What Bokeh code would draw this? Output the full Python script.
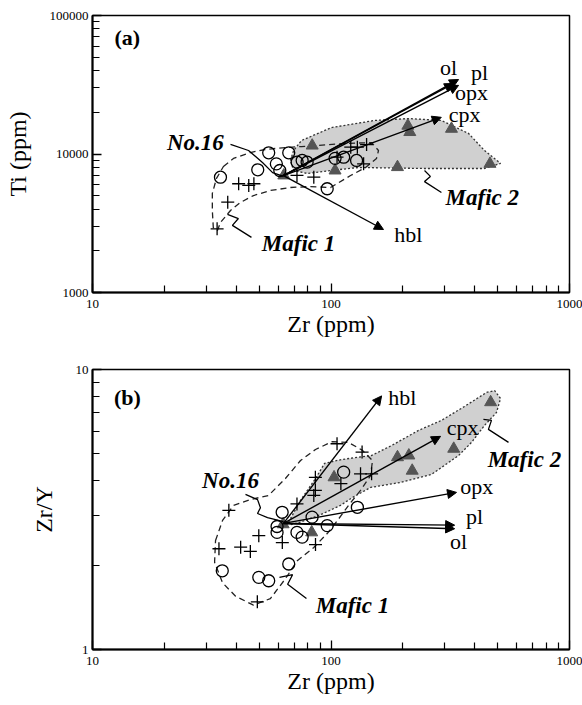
from bokeh.plotting import figure
from bokeh.layouts import column
from bokeh.models import (FixedTicker, NumeralTickFormatter, Label, Arrow,
                          NormalHead)
from bokeh.embed import file_html
from bokeh.resources import INLINE

FONT = "Liberation Serif"

# ---------------- Panel (a): Ti vs Zr ----------------
a_circ_zr = [34.4, 49.3, 54.8, 66.5, 59.0, 61.0, 72.1, 75.7, 79.4, 113, 128, 96.4, 104]
a_circ_ti = [6800, 7690, 10200, 10200, 8490, 7600, 8730, 8980, 8730, 9480, 8980, 5610, 9300]

a_cross_zr = [41, 45.2, 47.5, 36.9, 33.3, 72, 84.7, 121, 129, 141, 106, 137]
a_cross_ti = [6100, 5930, 6100, 4490, 2880, 7000, 6800, 11200, 11200, 11700, 9480, 8490]

a_tri_zr = [83.4, 104, 190, 214, 210, 320, 464, 63.4]
a_tri_ti = [11500, 7600, 8040, 14400, 16000, 15200, 8490, 7000]

a_mafic1_zr = [35.4, 39.0, 45.9, 53.1, 64.4, 75.2, 114, 147.9, 158.2, 155.2, 139.6, 120.8,
               99.6, 82.0, 67.6, 55.7, 47.3, 41.7, 37.9, 34.4, 33.4, 32.1, 31.8, 31.8, 33.1]
a_mafic1_ti = [8130, 9290, 10250, 10780, 11140, 11320, 11900, 12100, 10600, 9290, 7990, 6990,
               5730, 5820, 5730, 5450, 5010, 4470, 3910, 3200, 2800, 2940, 3910, 5190, 6660]

a_mafic2_zr = [67.6, 69.7, 75.2, 100.5, 152.2, 211.5, 290.4, 377.4, 440, 514, 440, 246.7,
               130.4, 99.6, 79.7, 69.7]
a_mafic2_ti = [8970, 10600, 12510, 15520, 17460, 18030, 17460, 14070, 10600, 8540, 7860, 7860,
               7990, 7600, 7230, 7600]

a_origin = (63.2, 6990)
a_vec_names = ["ol", "pl", "opx", "cpx", "hbl"]
a_vec_zr = [327, 342.7, 342.7, 290, 166]
a_vec_ti = [32300, 34500, 31300, 18400, 2850]
a_lab_zr = [311, 420, 388, 363, 211]
a_lab_ti = [42200, 38700, 27800, 19300, 2620]

a_no16_zr = [37.9, 45.1, 51.6, 56.9, 63.2]
a_no16_ti = [11720, 10600, 8690, 7340, 6890]
a_sq1_zr = [36.8, 40.9, 38.6, 46.4]
a_sq1_ti = [3660, 3420, 3050, 2500]
a_sq2_zr = [246.7, 261, 246.7, 290.4]
a_sq2_ti = [7600, 6890, 6320, 5270]

# ---------------- Panel (b): Zr/Y vs Zr ----------------
b_circ_zr = [62.4, 59.4, 72, 75.7, 83.3, 96.4, 129, 66.5, 35, 49.8, 54.8, 113, 59.4]
b_circ_zry = [3.09, 2.62, 2.62, 2.52, 2.97, 2.77, 3.22, 2.02, 1.91, 1.81, 1.76, 4.30, 2.75]

b_cross_zr = [37.3, 33.9, 41.8, 45.9, 49.8, 62.5, 86.1, 72, 84.7, 86, 110, 133, 148, 49.1,
              106, 135, 86]
b_cross_zry = [3.14, 2.29, 2.32, 2.24, 2.55, 2.41, 2.37, 3.31, 3.55, 4.12, 3.91, 4.24, 4.24,
               1.48, 5.43, 5.07, 3.70]

b_tri_zr = [190, 212, 219, 327, 467, 103, 83, 63]
b_tri_zry = [4.86, 4.93, 4.35, 5.21, 7.64, 4.12, 2.62, 2.80]

b_mafic1_zr = [32.8, 35.1, 39.0, 45.9, 54.7, 64.4, 74.5, 86.1, 101.4, 118.4, 135.6, 149.3,
               146.5, 133, 118.4, 106.5, 96.6, 84.5, 72.4, 64.4, 55.7, 47.3, 39.8, 35.1, 32.5]
b_mafic1_zry = [2.45, 2.89, 3.27, 3.43, 3.55, 4.08, 4.73, 5.18, 5.53, 5.49, 5.14, 4.73,
                4.18, 3.70, 3.27, 2.89, 2.60, 2.31, 2.08, 1.79, 1.52, 1.44, 1.55, 1.73, 2.05]

b_mafic2_zr = [66.4, 74.5, 86.1, 94.0, 110.7, 147.9, 179.4, 232.8, 290.4, 363, 449, 485.3,
               514, 494, 440, 388.2, 342.7, 263.8, 195.4, 146.5, 123, 109.6, 90.4, 74.5, 67.6]
b_mafic2_zry = [2.85, 3.41, 4.08, 4.62, 4.77, 4.93, 5.35, 6.06, 6.58, 7.38, 8.28, 8.41,
                7.88, 7.02, 6.31, 5.49, 4.93, 4.22, 3.95, 3.79, 3.49, 3.27, 3.03, 2.85, 2.79]

b_origin = (63.2, 2.82)
b_vec_names = ["hbl", "cpx", "opx", "pl", "ol"]
b_vec_zr = [163, 288, 336, 330, 330]
b_vec_zry = [8.05, 5.77, 3.64, 2.78, 2.70]
b_lab_zr = [199, 356, 408, 400, 343]
b_lab_zry = [7.94, 6.21, 3.82, 2.99, 2.43]

b_no16_zr = [43.8, 49.2, 50.6, 49.2, 54.2, 63.2]
b_no16_zry = [3.58, 3.43, 3.21, 3.06, 2.96, 2.86]
b_sq1_zr = [60.8, 69.0, 65.8, 78.9]
b_sq1_zry = [1.81, 1.85, 1.71, 1.52]
b_sq2_zr = [435.6, 470.8, 457.2, 555]
b_sq2_zry = [6.63, 6.58, 6.11, 5.49]

x_ticks = [10, 100, 1000]
x_minor = [m * d for d in (10, 100) for m in range(2, 10)]


def make_panel(y_range, y_ticks, y_minor, y_label, height, top, bottom, ylab_standoff):
    p = figure(width=582, height=height, x_axis_type="log", y_axis_type="log",
               x_range=(10, 1000), y_range=y_range, output_backend="svg",
               toolbar_location=None, min_border_left=92, min_border_right=13,
               min_border_top=top, min_border_bottom=bottom)
    p.grid.visible = False
    p.outline_line_color = "black"
    p.outline_line_width = 1.5
    p.xaxis.ticker = FixedTicker(ticks=x_ticks, minor_ticks=x_minor)
    p.yaxis.ticker = FixedTicker(ticks=y_ticks, minor_ticks=y_minor)
    p.xaxis.formatter = NumeralTickFormatter(format="0")
    p.yaxis.formatter = NumeralTickFormatter(format="0")
    for ax in (p.xaxis, p.yaxis):
        ax.axis_line_width = 2
        ax.major_tick_in = 9
        ax.major_tick_out = 0
        ax.minor_tick_in = 7
        ax.minor_tick_out = 0
        ax.major_tick_line_width = 1.3
        ax.minor_tick_line_width = 1.2
        ax.major_label_text_font = FONT
        ax.major_label_text_font_size = "13px"
        ax.major_label_text_color = "black"
        ax.axis_label_text_font = FONT
        ax.axis_label_text_font_size = "24px"
        ax.axis_label_text_font_style = "normal"
        ax.axis_label_text_color = "black"
    p.xaxis.axis_label = "Zr (ppm)"
    p.xaxis.major_label_standoff = 7
    p.xaxis.axis_label_standoff = 0
    p.yaxis.axis_label = y_label
    p.yaxis.major_label_standoff = 4
    p.yaxis.axis_label_standoff = ylab_standoff
    return p


def label(p, x, y, text, size="22px", style="normal"):
    p.add_layout(Label(x=x, y=y, text=text, text_align="center", text_baseline="middle",
                       text_font=FONT, text_font_size=size, text_font_style=style,
                       text_color="black"))


def draw(p, m1x, m1y, m2x, m2y, cx, cy, px_, py_, tx, ty, origin, vx, vy, names,
         lx, ly, lines):
    p.patch(m2x, m2y, fill_color="#d0d0d0", line_color="#333333", line_width=1.3,
            line_dash="2 2")
    p.patch(m1x + [m1x[0]], m1y + [m1y[0]], fill_color=None, line_color="#222222",
            line_width=1.3, line_dash="6 4")
    p.scatter(tx, ty, marker="triangle", size=12, fill_color="#555555",
              line_color="#555555")
    p.scatter(px_, py_, marker="cross", size=13, line_color="black", line_width=1.3)
    p.scatter(cx, cy, marker="circle", size=12, fill_color=None, line_color="black",
              line_width=1.3)
    for xe, ye in zip(vx, vy):
        p.add_layout(Arrow(x_start=origin[0], y_start=origin[1], x_end=xe, y_end=ye,
                           line_width=1.4, line_color="black",
                           end=NormalHead(size=9, fill_color="black", line_color="black")))
    for xs, ys in lines:
        p.line(xs, ys, line_color="black", line_width=1.3)
    for n, x, y in zip(names, lx, ly):
        label(p, x, y, n, "22px")


pa = make_panel((1000, 100000), [1000, 10000, 100000],
                [m * d for d in (1000, 10000) for m in range(2, 10)],
                "Ti (ppm)", 352, 15, 60, 16)
draw(pa, a_mafic1_zr, a_mafic1_ti, a_mafic2_zr, a_mafic2_ti, a_circ_zr, a_circ_ti,
     a_cross_zr, a_cross_ti, a_tri_zr, a_tri_ti, a_origin, a_vec_zr, a_vec_ti,
     a_vec_names, a_lab_zr, a_lab_ti,
     [(a_no16_zr, a_no16_ti), (a_sq1_zr, a_sq1_ti), (a_sq2_zr, a_sq2_ti)])
label(pa, 14.0, 69300, "(a)", "22px", "bold")
label(pa, 27.0, 12100, "No.16", "23px", "bold italic")
label(pa, 73.1, 2260, "Mafic 1", "23px", "bold italic")
label(pa, 431, 4850, "Mafic 2", "23px", "bold italic")

pb = make_panel((1, 10), [1, 10], [m for m in range(2, 10)],
                "Zr/Y", 353, 17, 56, 16)
draw(pb, b_mafic1_zr, b_mafic1_zry, b_mafic2_zr, b_mafic2_zry, b_circ_zr, b_circ_zry,
     b_cross_zr, b_cross_zry, b_tri_zr, b_tri_zry, b_origin, b_vec_zr, b_vec_zry,
     b_vec_names, b_lab_zr, b_lab_zry,
     [(b_no16_zr, b_no16_zry), (b_sq1_zr, b_sq1_zry), (b_sq2_zr, b_sq2_zry)])
label(pb, 14.0, 7.94, "(b)", "22px", "bold")
label(pb, 37.9, 4.02, "No.16", "23px", "bold italic")
label(pb, 123, 1.44, "Mafic 1", "23px", "bold italic")
label(pb, 647, 4.77, "Mafic 2", "23px", "bold italic")

layout = column(pa, pb)
open("out.html", "w").write(file_html(layout, INLINE))
